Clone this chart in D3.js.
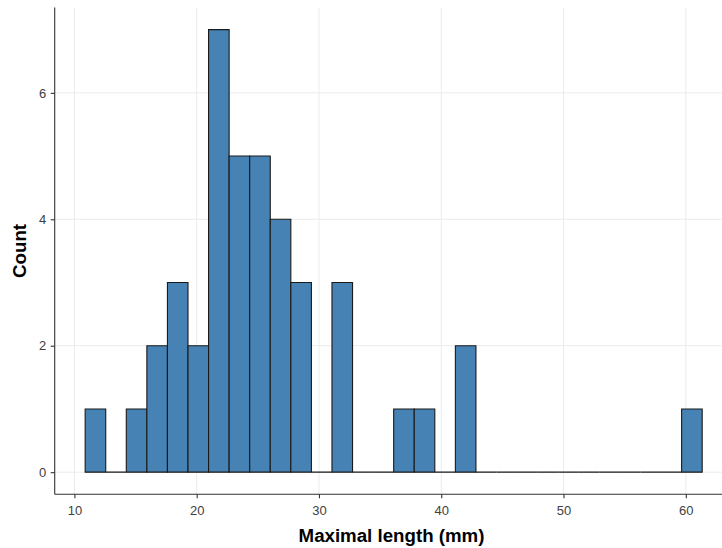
<!DOCTYPE html>
<html>
<head>
<meta charset="utf-8">
<script src="https://cdn.jsdelivr.net/npm/d3@7/dist/d3.min.js"></script>
<style>
  html, body { margin: 0; padding: 0; background: #ffffff; }
  svg { display: block; }
  text { font-family: "Liberation Sans", Arial, sans-serif; }
</style>
</head>
<body>
<svg id="chart" width="722" height="548"></svg>
<script>
// Histogram bins of maximal length (mm): 30 equal-width bins
const binStart = 10.88;
const binWidth = 1.682;
const binCounts = [1, 0, 1, 2, 3, 2, 7, 5, 5, 4, 3, 0, 3, 0, 0, 1, 1, 0, 2, 0,
                   0, 0, 0, 0, 0, 0, 0, 0, 0, 1];
const xTicks = [10, 20, 30, 40, 50, 60];
const yTicks = [0, 2, 4, 6];

const bins = binCounts.map((c, i) => ({
  x0: binStart + i * binWidth,
  x1: binStart + (i + 1) * binWidth,
  count: c
}));

const svg = d3.select("#chart");
const panel = { left: 54.7, right: 731, top: 7.5, bottom: 494.3 };

// x scale: tick positions fixed by the axis, y scale: 5% expansion as ggplot does
const x = d3.scaleLinear().domain([10, 60]).range([74.4, 685.8]);
const yMax = d3.max(binCounts);
const y = d3.scaleLinear().domain([-yMax * 0.05, yMax * 1.05]).range([panel.bottom, panel.top]);

// grid
const grid = svg.append("g");
grid.selectAll("line.gx").data(xTicks).join("line")
  .attr("x1", d => x(d)).attr("x2", d => x(d))
  .attr("y1", panel.top).attr("y2", panel.bottom)
  .attr("stroke", "#ebebeb").attr("stroke-width", 1);
grid.selectAll("line.gy").data(yTicks).join("line")
  .attr("y1", d => y(d)).attr("y2", d => y(d))
  .attr("x1", panel.left).attr("x2", panel.right)
  .attr("stroke", "#ebebeb").attr("stroke-width", 1);

// bars (drawn as paths so empty bins still show their outline on the baseline)
svg.append("g").selectAll("path").data(bins).join("path")
  .attr("d", d => {
    const p = d3.path();
    p.rect(x(d.x0), y(d.count), x(d.x1) - x(d.x0), y(0) - y(d.count));
    return p.toString();
  })
  .attr("fill", "#4682b4")
  .attr("stroke", "#1a1a1a")
  .attr("stroke-width", 1.1);

// axes
const xAxis = d3.axisBottom(x).tickValues(xTicks).tickSize(4).tickPadding(7).tickFormat(d3.format("d"));
const yAxis = d3.axisLeft(y).tickValues(yTicks).tickSize(4).tickPadding(4.5).tickFormat(d3.format("d"));

const gx = svg.append("g").attr("transform", `translate(0,${panel.bottom})`).call(xAxis);
const gy = svg.append("g").attr("transform", `translate(${panel.left},0)`).call(yAxis);

[gx, gy].forEach(g => {
  g.select(".domain").attr("stroke", "#333333").attr("stroke-width", 1.1);
  g.selectAll(".tick line").attr("stroke", "#333333").attr("stroke-width", 1.1);
  g.selectAll(".tick text").attr("fill", "#404040").attr("font-size", 13)
    .style("font-family", "'Liberation Sans', Arial, sans-serif");
});
gx.select(".domain").attr("d", `M${panel.left},0H${panel.right}`);
gy.select(".domain").attr("d", `M0,${panel.top}V${panel.bottom}`);

// axis titles
svg.append("text")
  .attr("x", 391.5).attr("y", 542)
  .attr("text-anchor", "middle")
  .attr("font-size", 18.7).attr("font-weight", "bold").attr("fill", "#000")
  .text("Maximal length (mm)");

svg.append("text")
  .attr("transform", `translate(26,${(panel.top + panel.bottom) / 2}) rotate(-90)`)
  .attr("text-anchor", "middle")
  .attr("font-size", 18.7).attr("font-weight", "bold").attr("fill", "#000")
  .text("Count");
</script>
</body>
</html>
